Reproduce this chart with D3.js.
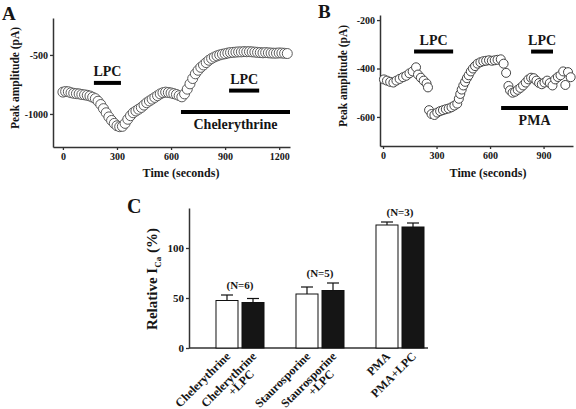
<!DOCTYPE html>
<html>
<head>
<meta charset="utf-8">
<script src="https://d3js.org/d3.v7.min.js"></script>
<style>
  body { margin: 0; background: #fff; }
  text { font-family: "Liberation Serif", "Times New Roman", serif; font-weight: bold; fill: #151515; }
</style>
</head>
<body>
<div id="fig"></div>
<script>
// ---- panel A : peak amplitude vs time ----
var timeA = [0, 15, 30, 45, 60, 75, 90, 105, 120, 135, 150, 165, 180, 195, 210, 225, 240, 255, 270, 285,
             300, 315, 330, 345, 360, 375, 390, 405, 420, 435, 450, 465, 480, 495, 510, 525, 540, 555, 570, 585,
             600, 615, 630, 645, 660, 675, 690, 705, 720, 735, 750, 765, 780, 795, 810, 825, 840, 855, 870, 885,
             900, 915, 930, 945, 960, 975, 990, 1005, 1020, 1035, 1050, 1065, 1080, 1095, 1110, 1125, 1140, 1155,
             1170, 1185, 1200, 1215, 1230, 1245];
var ampA = [-815, -810, -812, -820, -825, -828, -830, -835, -838, -842, -848, -858, -870, -892, -920, -955, -990, -1025, -1055, -1080,
            -1100, -1108, -1105, -1080, -1045, -1015, -990, -975, -960, -945, -925, -905, -890, -875, -860, -845, -830, -820, -815, -818,
            -822, -828, -835, -845, -855, -830, -790, -745, -700, -660, -630, -605, -585, -565, -545, -530, -518, -508, -500, -494,
            -490, -484, -480, -478, -476, -474, -474, -472, -473, -472, -474, -476, -478, -480, -482, -480, -482, -484,
            -485, -485, -483, -484, -486, -488];
var drugA = [
  {label: "LPC", t0: 172, t1: 322, v: -737, below: false},
  {label: "LPC", t0: 922, t1: 1089, v: -802, below: false},
  {label: "Chelerythrine", t0: 655, t1: 1260, v: -983, below: true}
];
var ticksAx = [0, 300, 600, 900, 1200];
var ticksAy = [-500, -1000];

// ---- panel B ----
var timeB = [5, 22, 40, 58, 75, 93, 112, 130, 148, 166, 185, 196, 212, 228, 244, 252,
             258, 272, 288, 304, 320, 336, 352, 368, 384, 400, 416, 425,
             433, 441, 450, 460, 470, 480, 492, 504, 516, 530, 546, 562, 578, 594, 610, 626, 642, 660,
             676, 690, 703, 712, 726, 740, 755, 770, 785, 800, 815, 830, 845, 860, 875, 890, 905, 920,
             935, 950, 965, 980, 995, 1010, 1022, 1037, 1052];
var ampB = [-445, -450, -455, -458, -450, -443, -436, -430, -420, -412, -395, -425, -438, -450, -462, -478,
            -572, -588, -592, -582, -576, -572, -568, -565, -560, -553, -545, -525,
            -505, -487, -470, -455, -440, -428, -412, -400, -390, -380, -374, -370, -368, -366, -368, -366, -364, -362,
            -380, -418, -472, -490, -500, -496, -488, -480, -470, -458, -445, -438, -440, -450, -460, -465, -458, -450,
            -460, -470, -445, -435, -428, -412, -468, -415, -436];
var drugB = [
  {label: "LPC", t0: 174, t1: 393, v: -330, below: false},
  {label: "LPC", t0: 830, t1: 953, v: -330, below: false},
  {label: "PMA", t0: 662, t1: 1037, v: -563, below: true}
];
var ticksBx = [0, 300, 600, 900];
var ticksBy = [-200, -400, -600];

// ---- panel C : relative I_Ca ----
var groups = ["Chelerythrine", "Staurosporine", "PMA"];
var relCtrl = [47.5, 54, 123];
var errCtrl = [5.5, 7, 3];
var relLpc = [45.5, 57.5, 121];
var errLpc = [4, 7.5, 4];
var groupN = ["(N=6)", "(N=5)", "(N=3)"];
var barLabels = [["Chelerythrine"], ["Chelerythrine", "+LPC"],
                 ["Staurosporine"], ["Staurosporine", "+LPC"],
                 ["PMA"], ["PMA+LPC"]];
var ticksCy = [0, 50, 100];

var W = 576, H = 409;
var svg = d3.select("#fig").append("svg")
    .attr("width", W)
    .attr("height", H);

function styleAxis(g, fs) {
    g.select(".domain").attr("stroke", "#333").attr("stroke-width", 1.5);
    g.selectAll(".tick line").attr("stroke", "#333").attr("stroke-width", 1.3);
    g.selectAll(".tick text").style("font-size", fs + "px");
}

function tracePanel(opt) {
    var x = d3.scaleLinear().domain(opt.xd).range(opt.xr),
        y = d3.scaleLinear().domain(opt.yd).range(opt.yr);

    var gy = svg.append("g")
        .attr("transform", "translate(" + opt.xr[0] + ",0)")
        .call(d3.axisLeft(y).tickValues(opt.ty).tickSize(3).tickSizeOuter(0).tickPadding(2)
            .tickFormat(function (d) { return String(d); }));
    styleAxis(gy, 10);

    var gx = svg.append("g")
        .attr("transform", "translate(0," + opt.yr[0] + ")")
        .call(d3.axisBottom(x).tickValues(opt.tx).tickSize(3).tickSizeOuter(0).tickPadding(3)
            .tickFormat(function (d) { return String(d); }));
    styleAxis(gx, 10);

    // recording
    svg.append("g").selectAll("circle")
        .data(opt.t)
        .join("circle")
        .attr("cx", function (d) { return x(d); })
        .attr("cy", function (d, i) { return y(opt.v[i]); })
        .attr("r", opt.r)
        .attr("fill", "#fff")
        .attr("stroke", opt.stroke)
        .attr("stroke-width", 1);

    // drug application bars
    opt.drugs.forEach(function (b) {
        svg.append("line")
            .attr("x1", x(b.t0)).attr("x2", x(b.t1))
            .attr("y1", y(b.v)).attr("y2", y(b.v))
            .attr("stroke", "#000")
            .attr("stroke-width", 4);
        svg.append("text")
            .attr("x", (x(b.t0) + x(b.t1)) / 2)
            .attr("y", y(b.v) + (b.below ? 17 : -7))
            .attr("text-anchor", "middle")
            .style("font-size", "14px")
            .text(b.label);
    });

    svg.append("text")
        .attr("x", opt.xlab[0]).attr("y", opt.xlab[1])
        .attr("text-anchor", "middle")
        .style("font-size", "12px")
        .text("Time (seconds)");

    svg.append("text")
        .attr("transform", "translate(" + opt.ylab[0] + "," + opt.ylab[1] + ") rotate(-90)")
        .attr("text-anchor", "middle")
        .style("font-size", "11.5px")
        .text("Peak amplitude (pA)");

    svg.append("text")
        .attr("x", opt.letter[0]).attr("y", opt.letter[1])
        .style("font-size", "19px")
        .text(opt.name);
}

tracePanel({
    name: "A", letter: [2, 20],
    xd: [-55, 1260], xr: [53, 290],
    yd: [-1280, -187], yr: [147, 18],
    tx: ticksAx, ty: ticksAy,
    t: timeA, v: ampA, r: 5, stroke: "#5a5a5a",
    drugs: drugA,
    xlab: [181, 177], ylab: [19, 78]
});

tracePanel({
    name: "B", letter: [318, 18],
    xd: [-17, 1065], xr: [380, 573],
    yd: [-720, -179], yr: [146, 15],
    tx: ticksBx, ty: ticksBy,
    t: timeB, v: ampB, r: 4.5, stroke: "#444",
    drugs: drugB,
    xlab: [488, 177], ylab: [347, 76]
});

// ---- panel C ----
var x0 = d3.scaleBand().domain(groups).range([200, 440]);
var x1 = d3.scaleBand().domain(["ctrl", "lpc"]).range([0, x0.bandwidth()])
    .paddingInner(0.154).paddingOuter(0.615);
var yC = d3.scaleLinear().domain([0, 140]).range([348, 208]);

var gyC = svg.append("g")
    .attr("transform", "translate(189,0)")
    .call(d3.axisLeft(yC).tickValues(ticksCy).tickSize(3).tickSizeOuter(0).tickPadding(2));
styleAxis(gyC, 11);

svg.append("line")
    .attr("x1", 189).attr("x2", 428)
    .attr("y1", yC(0)).attr("y2", yC(0))
    .attr("stroke", "#333").attr("stroke-width", 1.5);

var bars = [];
groups.forEach(function (g, i) {
    bars.push({g: g, k: "ctrl", v: relCtrl[i], e: errCtrl[i]});
    bars.push({g: g, k: "lpc", v: relLpc[i], e: errLpc[i]});
});

var bw = x1.bandwidth();
var barG = svg.append("g");
bars.forEach(function (b, i) {
    var bx = x0(b.g) + x1(b.k),
        cx = bx + bw / 2;
    barG.append("line")
        .attr("x1", cx).attr("x2", cx)
        .attr("y1", yC(b.v)).attr("y2", yC(b.v + b.e))
        .attr("stroke", "#111").attr("stroke-width", 1.2);
    barG.append("line")
        .attr("x1", cx - 6).attr("x2", cx + 6)
        .attr("y1", yC(b.v + b.e)).attr("y2", yC(b.v + b.e))
        .attr("stroke", "#111").attr("stroke-width", 1.2);
    barG.append("rect")
        .attr("x", bx).attr("y", yC(b.v))
        .attr("width", bw).attr("height", yC(0) - yC(b.v))
        .attr("fill", b.k === "ctrl" ? "#fff" : "#151515")
        .attr("stroke", "#111").attr("stroke-width", 1);

    // rotated category label
    var lab = svg.append("g")
        .attr("transform", "translate(" + (cx + 4) + ",357) rotate(-45)");
    barLabels[i].forEach(function (s, j) {
        lab.append("text")
            .attr("x", j * -14).attr("y", j * 11)
            .attr("text-anchor", "end")
            .style("font-size", "12px")
            .text(s);
    });
});

groups.forEach(function (g, i) {
    var top = Math.max(relCtrl[i] + errCtrl[i], relLpc[i] + errLpc[i]);
    svg.append("text")
        .attr("x", x0(g) + x0.bandwidth() / 2)
        .attr("y", yC(top) - 6)
        .attr("text-anchor", "middle")
        .style("font-size", "11px")
        .text(groupN[i]);
});

var yl = svg.append("text")
    .attr("transform", "translate(157,279) rotate(-90)")
    .attr("text-anchor", "middle")
    .style("font-size", "15px");
yl.append("tspan").text("Relative I");
yl.append("tspan").attr("dy", 4).style("font-size", "9px").text("Ca");
yl.append("tspan").attr("dy", -4).text(" (%)");

svg.append("text")
    .attr("x", 127).attr("y", 213)
    .style("font-size", "20px")
    .text("C");
</script>
</body>
</html>
